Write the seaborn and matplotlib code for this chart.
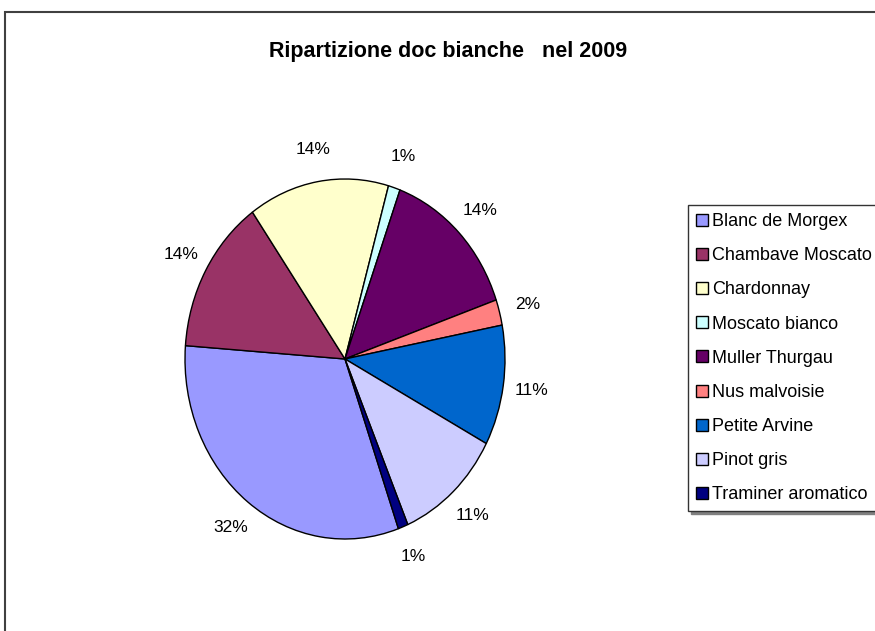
"""Pie chart of white DOC wines in 2009."""
import matplotlib
matplotlib.use('Agg')
import matplotlib.pyplot as plt
from matplotlib.patches import Rectangle
import seaborn as sns

labels = ['Blanc de Morgex', 'Chambave Moscato', 'Chardonnay', 'Moscato bianco',
          'Muller Thurgau', 'Nus malvoisie', 'Petite Arvine', 'Pinot gris',
          'Traminer aromatico']
shares = [31.6, 14.0, 14.2, 1.2, 14.1, 2.3, 10.8, 10.8, 1.0]
colors = ['#9999FF', '#993366', '#FFFFCC', '#CCFFFF', '#660066',
          '#FF8080', '#0066CC', '#CCCCFF', '#000080']
title = 'Ripartizione doc bianche   nel 2009'

W, H = 875, 631

sns.set_theme(style='white')
plt.rcParams['font.family'] = ['Liberation Sans', 'DejaVu Sans']
plt.rcParams['text.color'] = 'black'

fig = plt.figure(figsize=(W / 100, H / 100), dpi=100)
fig.patch.set_facecolor('white')

# outer chart frame (cropped on the right and bottom)
fig.patches.append(Rectangle((5 / W, -0.2), 1.2, 1.2 - 12 / H,
                             transform=fig.transFigure, fill=False,
                             edgecolor='#404040', linewidth=1.5))

# pie area: x from 185 to 505 px, y from 179 to 539 px
ax = fig.add_axes([185 / W, 1 - 539 / H, 320 / W, 360 / H])
wedges, _, pct = ax.pie(shares, colors=colors, startangle=-70.5, counterclock=False,
                        autopct=lambda p: f'{p:.0f}%', pctdistance=1.18,
                        wedgeprops={'edgecolor': 'black', 'linewidth': 1.0},
                        textprops={'fontsize': 12.5, 'color': 'black'})
ax.set_aspect('auto')
ax.set_xlim(-1, 1)
ax.set_ylim(-1, 1)
ax.axis('off')

fig.text(448 / W, 1 - 57 / H, title, ha='center', va='baseline',
         fontsize=15.5, fontweight='bold', color='black')

leg = fig.legend(wedges, labels, loc='upper left',
                 bbox_to_anchor=(688 / W, 1 - 205 / H), borderaxespad=0,
                 fontsize=13, handlelength=0.65, handleheight=0.65,
                 handletextpad=0.25, labelspacing=0.95, borderpad=0.45,
                 fancybox=False, frameon=True,
                 shadow={'color': '#808080', 'alpha': 1.0})
leg.get_frame().set_edgecolor('#333333')
leg.get_frame().set_linewidth(1.0)
for t in leg.get_texts():
    t.set_color('black')
for h in leg.legend_handles:
    h.set_edgecolor('black')
    h.set_linewidth(1.0)

fig.savefig('out.png', dpi=100)
